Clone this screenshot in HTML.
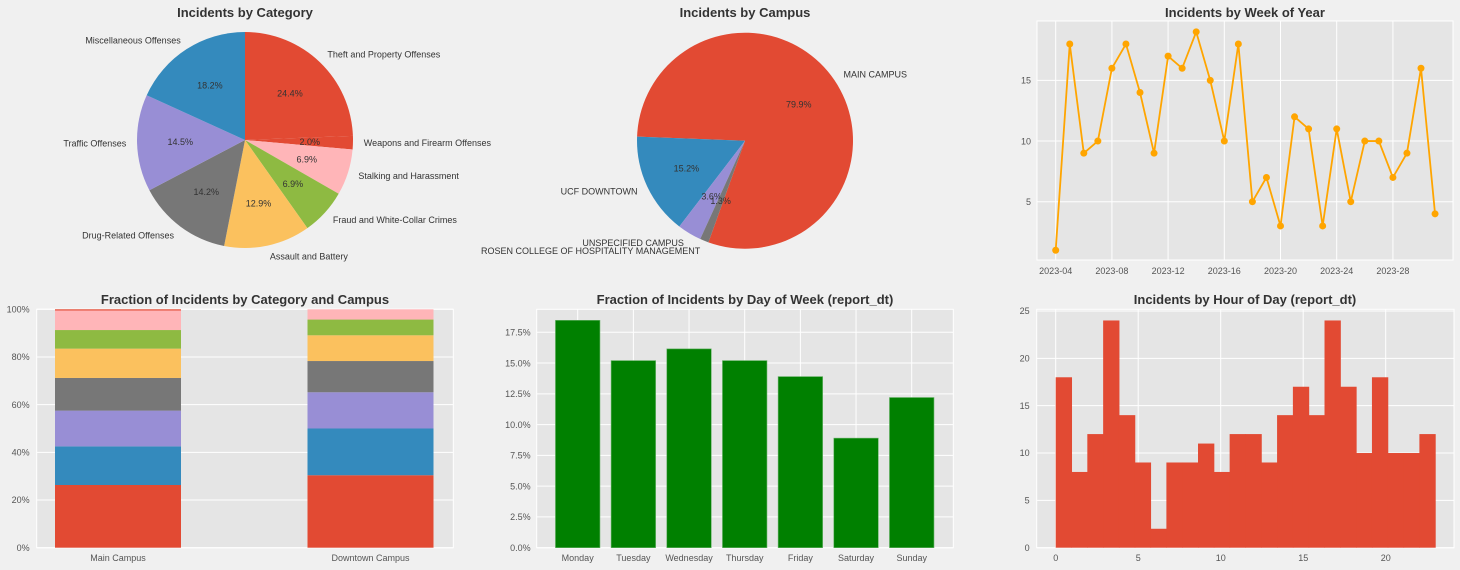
<!DOCTYPE html>
<html><head><meta charset="utf-8">
<style>
html,body{margin:0;padding:0;background:#F0F0F0;}
svg{display:block;font-family:"Liberation Sans",sans-serif;}
.t{font-size:13px;font-weight:bold;fill:#333;text-anchor:middle;}
.tk{font-size:9px;fill:#555;}
.pl{font-size:9px;fill:#333;}
</style></head>
<body>
<svg id="fig" width="1460" height="570" viewBox="0 0 1460 570" xmlns="http://www.w3.org/2000/svg"></svg>
<script>
// ---- data ----
const catLabels = ["Theft and Property Offenses","Weapons and Firearm Offenses","Stalking and Harassment","Fraud and White-Collar Crimes","Assault and Battery","Drug-Related Offenses","Traffic Offenses","Miscellaneous Offenses"];
const catValues = [24.4,2.0,6.9,6.9,12.9,14.2,14.5,18.2];
const catColors = ["#E24A33","#E24A33","#FFB5B8","#8EBA42","#FBC15E","#777777","#988ED5","#348ABD"];
const campusLabels = ["MAIN CAMPUS","UCF DOWNTOWN","UNSPECIFIED CAMPUS","ROSEN COLLEGE OF HOSPITALITY MANAGEMENT"];
const campusValues = [79.9,15.2,3.6,1.3];
const campusColors = ["#E24A33","#348ABD","#988ED5","#777777"];
const weeks = [4,5,6,7,8,9,10,11,12,13,14,15,16,17,18,19,20,21,22,23,24,25,26,27,28,29,30,31];
const weekCounts = [1,18,9,10,16,18,14,9,17,16,19,15,10,18,5,7,3,12,11,3,11,5,10,10,7,9,16,4];
const weekTicks = [4,8,12,16,20,24,28];
const stackCampuses = ["Main Campus","Downtown Campus"];
const stackMain = [26.3,16.2,15.0,13.7,12.3,7.8,8.2,0.5];
const stackDown = [30.4,19.6,15.2,13.1,10.8,6.6,4.3,0.0];
const stackColors = ["#E24A33","#348ABD","#988ED5","#777777","#FBC15E","#8EBA42","#FFB5B8","#E24A33"];
const days = ["Monday","Tuesday","Wednesday","Thursday","Friday","Saturday","Sunday"];
const dayFrac = [18.47,15.2,16.15,15.2,13.9,8.9,12.2];
const hourCounts = [18,8,12,24,14,9,2,9,9,11,8,12,12,9,14,17,14,24,17,10,18,10,10,12];

const NS="http://www.w3.org/2000/svg";
const fig=document.getElementById('fig');
function mk(tag,attrs,parent,txt){const e=document.createElementNS(NS,tag);for(const k in attrs)e.setAttribute(k,attrs[k]);if(txt!==undefined)e.textContent=txt;(parent||fig).appendChild(e);return e;}

function axesBg(x0,y0,x1,y1,name){
  const r=mk('rect',{x:x0,y:y0,width:x1-x0,height:y1-y0,fill:'#E5E5E5',stroke:'#fff','stroke-width':1});
  
  
}
function title(x,y,txt,name){
  const t=mk('text',{x:x,y:y,class:'t'},fig,txt);
  
  
}
function tick(x,y,txt,anchor,name){
  const t=mk('text',{x:x,y:y,class:'tk','text-anchor':anchor},fig,txt);
  
  
}
function grid(x1,y1,x2,y2){
  const l=mk('line',{x1:x1,y1:y1,x2:x2,y2:y2,stroke:'#fff','stroke-width':1});
  
  
}

// ---- pie helper ----
function pie(cx,cy,r,vals,cols,labels,startDeg,dir,pfx,labSize,pctSize){
  let a=startDeg;
  const tot=vals.reduce((s,v)=>s+v,0);
  vals.forEach((v,i)=>{
    const sweep=v/tot*360*dir;
    const a2=a+sweep;
    const p=(d)=>[cx+r*Math.cos(d*Math.PI/180), cy-r*Math.sin(d*Math.PI/180)];
    const [x1,y1]=p(a),[x2,y2]=p(a2);
    const large=Math.abs(sweep)>180?1:0;
    const sweepFlag=dir<0?1:0;
    const s=mk('path',{d:`M${cx},${cy} L${x1},${y1} A${r},${r} 0 ${large} ${sweepFlag} ${x2},${y2} Z`,fill:cols[i]});
    
    
    const mid=(a+a2)/2*Math.PI/180;
    const lx=cx+1.1*r*Math.cos(mid), ly=cy-1.1*r*Math.sin(mid);
    const anchor=Math.cos(mid)>=0?'start':'end';
    const lt=mk('text',{x:lx,y:ly+3.2,class:'pl','text-anchor':anchor,'font-size':labSize},fig,labels[i]);
    
    
    const px=cx+0.6*r*Math.cos(mid), py=cy-0.6*r*Math.sin(mid);
    const pt=mk('text',{x:px,y:py+3.2,class:'pl','text-anchor':'middle','font-size':pctSize},fig,v.toFixed(1)+'%');
    
    
    a=a2;
  });
}

// ---- Pie 1: category ----
title(245,17,'Incidents by Category','category-pie-title');
pie(245,140,108,catValues,catColors,catLabels,90,-1,'category',9,9);

// ---- Pie 2: campus ----
title(745,17,'Incidents by Campus','campus-pie-title');
pie(745,140.7,108,campusValues,campusColors,campusLabels,250.2,1,'campus',8,8);

// ---- Week line ----
(function(){
  const X0=1037,X1=1453,Y0=21,Y1=260;
  const xs=v=>1055.7+(v-4)*14.05;
  const ys=v=>201.7-(v-5)*12.13;
  title(1245,17,'Incidents by Week of Year','week-chart-title');
  axesBg(X0,Y0,X1,Y1,'week-plot-area');
  weekTicks.forEach(w=>{grid(xs(w),Y0,xs(w),Y1);tick(xs(w),274,'2023-'+String(w).padStart(2,'0'),'middle','week-x-tick');});
  [5,10,15].forEach(v=>{grid(X0,ys(v),X1,ys(v));tick(X0-6,ys(v)+3.2,String(v),'end','week-y-tick');});
  const pts=weeks.map((w,i)=>xs(w)+','+ys(weekCounts[i])).join(' ');
  const pl=mk('polyline',{points:pts,fill:'none',stroke:'#FFA500','stroke-width':1.8});
  
  
  weeks.forEach((w,i)=>{
    const c=mk('circle',{cx:xs(w),cy:ys(weekCounts[i]),r:3.5,fill:'#FFA500'});
    
    
  });
})();

// ---- Stacked bar ----
(function(){
  const X0=36.7,X1=453.3,Y0=309.3,Y1=547.7;
  const xs=i=>118+i*252.5;
  const ys=v=>Y1-v/100*(Y1-Y0);
  const bw=126;
  title(245,304,'Fraction of Incidents by Category and Campus','stacked-chart-title');
  axesBg(X0,Y0,X1,Y1,'stacked-plot-area');
  [0,20,40,60,80,100].forEach(v=>{grid(X0,ys(v),X1,ys(v));tick(X0-7,ys(v)+3.2,v+'%','end','stacked-y-tick');});
  [stackMain,stackDown].forEach((arr,ci)=>{
    let base=0;
    arr.forEach((v,k)=>{
      if(v<=0)return;
      const r=mk('rect',{x:xs(ci)-bw/2,y:ys(base+v),width:bw,height:ys(base)-ys(base+v),fill:stackColors[k]});
      
      
      base+=v;
    });
    tick(xs(ci),561,stackCampuses[ci],'middle','stacked-x-tick');
  });
})();

// ---- Day of week ----
(function(){
  const X0=536.7,X1=953.3,Y0=309.3,Y1=547.7;
  const xs=i=>577.7+i*55.67;
  const ys=v=>Y1-v*12.31;
  const bw=44.5;
  title(745,304,'Fraction of Incidents by Day of Week (report_dt)','day-chart-title');
  axesBg(X0,Y0,X1,Y1,'day-plot-area');
  days.forEach((d,i)=>grid(xs(i),Y0,xs(i),Y1));
  [0,2.5,5,7.5,10,12.5,15,17.5].forEach(v=>{grid(X0,ys(v),X1,ys(v));tick(X0-6,ys(v)+3.2,v.toFixed(1)+'%','end','day-y-tick');});
  days.forEach((d,i)=>{
    const r=mk('rect',{x:xs(i)-bw/2,y:ys(dayFrac[i]),width:bw,height:Y1-ys(dayFrac[i]),fill:'#008000',stroke:'#66b266','stroke-width':0.6});
    
    
    tick(xs(i),561,d,'middle','day-x-tick');
  });
})();

// ---- Hour histogram ----
(function(){
  const X0=1036.7,X1=1454,Y0=309.3,Y1=547.7;
  const xs=v=>1055.7+v*16.5;
  const ys=v=>Y1-v*(Y1-311)/25;
  title(1245,304,'Incidents by Hour of Day (report_dt)','hour-chart-title');
  axesBg(X0,Y0,X1,Y1,'hour-plot-area');
  [0,5,10,15,20].forEach(v=>{grid(xs(v),Y0,xs(v),Y1);tick(xs(v),561,String(v),'middle','hour-x-tick');});
  [0,5,10,15,20,25].forEach(v=>{grid(X0,ys(v),X1,ys(v));tick(X0-7,ys(v)+3.2,String(v),'end','hour-y-tick');});
  const w=23/hourCounts.length;
  hourCounts.forEach((c,i)=>{
    const r=mk('rect',{x:xs(i*w),y:ys(c),width:xs((i+1)*w)-xs(i*w)+0.5,height:Y1-ys(c),fill:'#E24A33'});
    
    
  });
})();
</script>
</body></html>
